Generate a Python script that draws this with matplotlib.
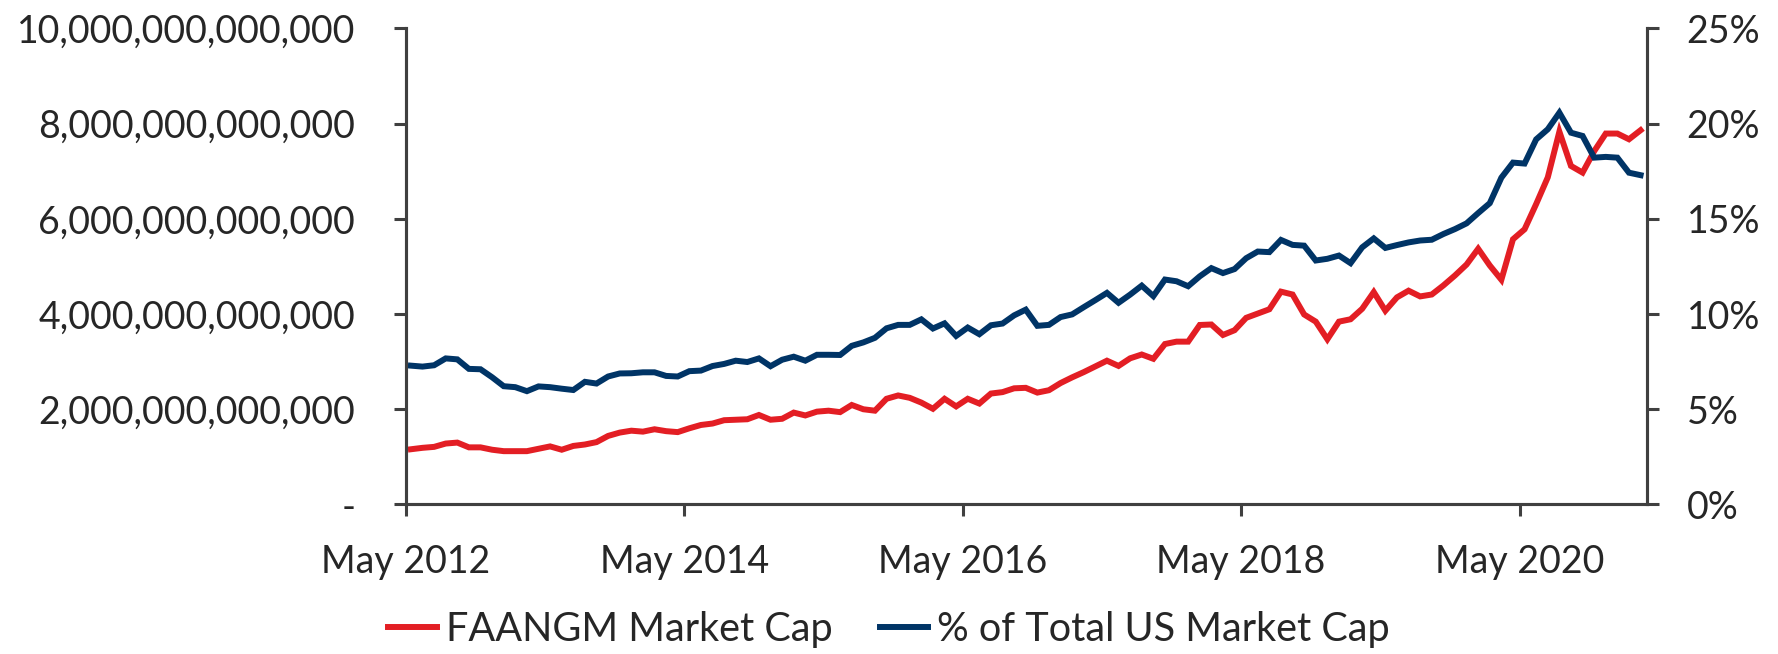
import numpy as np
import matplotlib
matplotlib.use("Agg")
import matplotlib.pyplot as plt
from matplotlib.ticker import FuncFormatter, MultipleLocator
from matplotlib.transforms import ScaledTranslation

plt.rcParams['font.family'] = ['Lato', 'DejaVu Sans']

# monthly data, May 2012 .. Mar 2021
# FAANGM market cap, trillions of USD
market_cap_tn = [
    1.16, 1.19, 1.21, 1.28, 1.30, 1.20, 1.20, 1.15, 1.12, 1.12,
    1.12, 1.17, 1.22, 1.15, 1.23, 1.26, 1.31, 1.44, 1.51, 1.55,
    1.53, 1.58, 1.54, 1.52, 1.60, 1.67, 1.70, 1.77, 1.78, 1.79,
    1.88, 1.78, 1.80, 1.93, 1.87, 1.95, 1.97, 1.94, 2.09, 2.00,
    1.97, 2.22, 2.29, 2.24, 2.14, 2.01, 2.22, 2.06, 2.22, 2.12,
    2.33, 2.36, 2.44, 2.45, 2.35, 2.40, 2.55, 2.67, 2.78, 2.90,
    3.02, 2.91, 3.07, 3.15, 3.06, 3.37, 3.42, 3.42, 3.77, 3.78,
    3.56, 3.66, 3.92, 4.01, 4.10, 4.47, 4.41, 3.99, 3.84, 3.47,
    3.84, 3.89, 4.11, 4.46, 4.07, 4.35, 4.49, 4.37, 4.41, 4.60,
    4.81, 5.04, 5.37, 5.02, 4.72, 5.57, 5.78, 6.31, 6.87, 7.83,
    7.11, 6.97, 7.42, 7.79, 7.79, 7.67, 7.86,
]
# share of total US market cap, percent
share_pct = [
    7.29, 7.24, 7.31, 7.67, 7.62, 7.12, 7.10, 6.68, 6.21, 6.16,
    5.95, 6.20, 6.16, 6.08, 6.01, 6.44, 6.35, 6.72, 6.88, 6.89,
    6.94, 6.94, 6.75, 6.72, 7.00, 7.03, 7.27, 7.38, 7.55, 7.48,
    7.67, 7.26, 7.60, 7.76, 7.55, 7.86, 7.86, 7.85, 8.33, 8.51,
    8.75, 9.25, 9.43, 9.43, 9.72, 9.24, 9.51, 8.85, 9.29, 8.94,
    9.41, 9.50, 9.93, 10.23, 9.38, 9.43, 9.84, 9.98, 10.36, 10.73,
    11.11, 10.59, 11.02, 11.49, 10.94, 11.81, 11.72, 11.46, 11.98, 12.41,
    12.15, 12.36, 12.93, 13.28, 13.25, 13.89, 13.63, 13.59, 12.81, 12.90,
    13.07, 12.67, 13.50, 13.97, 13.47, 13.62, 13.76, 13.86, 13.90, 14.20,
    14.46, 14.76, 15.30, 15.82, 17.16, 17.95, 17.90, 19.17, 19.70, 20.57,
    19.52, 19.35, 18.21, 18.25, 18.21, 17.42, 17.29,
]
tick_months = [0, 24, 48, 72, 96]
tick_labels = ["May 2012", "May 2014", "May 2016", "May 2018", "May 2020"]

RED = '#E31E24'
BLUE = '#003466'
INK = '#262626'
SPINE = '#404040'

cap = np.array(market_cap_tn) * 1e12
share = np.array(share_pct) / 100.0
x = np.arange(len(cap))

fig = plt.figure(figsize=(17.78, 6.54), dpi=100)
ax = fig.add_axes([0.2283, 0.2286, 0.698, 0.7281])
ax2 = ax.twinx()

l1, = ax.plot(x, cap, color=RED, lw=4.3, solid_joinstyle='miter', label='FAANGM Market Cap')
l2, = ax2.plot(x, share, color=BLUE, lw=4.3, solid_joinstyle='miter', label='% of Total US Market Cap')

# points sit mid-month, ticks at month start
off = 0.43
ax.set_xlim(-off, len(x) - 1 + 0.55)
ax.set_xticks(np.array(tick_months) - off)
ax.set_xticklabels(tick_labels)

ax.set_ylim(0, 10e12)
ax.yaxis.set_major_locator(MultipleLocator(2e12))
ax.yaxis.set_major_formatter(FuncFormatter(lambda v, p: '-' if v == 0 else f'{v:,.0f}'))
ax2.set_ylim(0, 0.25)
ax2.yaxis.set_major_locator(MultipleLocator(0.05))
ax2.yaxis.set_major_formatter(FuncFormatter(lambda v, p: f'{v*100:.0f}%'))

for a in (ax, ax2):
    a.spines['top'].set_visible(False)
    for s in ('left', 'right', 'bottom'):
        a.spines[s].set_color(SPINE)
        a.spines[s].set_linewidth(2.2)
    a.tick_params(colors=SPINE, width=2.2, length=8.5, direction='out',
                  labelsize=27, labelcolor=INK)
ax.tick_params(axis='y', pad=28)
ax.tick_params(axis='x', pad=20)
ax2.tick_params(axis='y', pad=20)

# zero label "-" sits left of the others
fig.canvas.draw()
zero_lbl = ax.get_yticklabels()[0]
zero_lbl.set_transform(zero_lbl.get_transform() + ScaledTranslation(-0.19, 0, fig.dpi_scale_trans))

fig.legend(handles=[l1, l2], loc='center', bbox_to_anchor=(0.5, 0.038), ncol=2,
           frameon=False, fontsize=28.5, handlelength=1.23, handletextpad=0.22,
           columnspacing=1.2, labelcolor=INK)

fig.savefig('out.png', dpi=100)
